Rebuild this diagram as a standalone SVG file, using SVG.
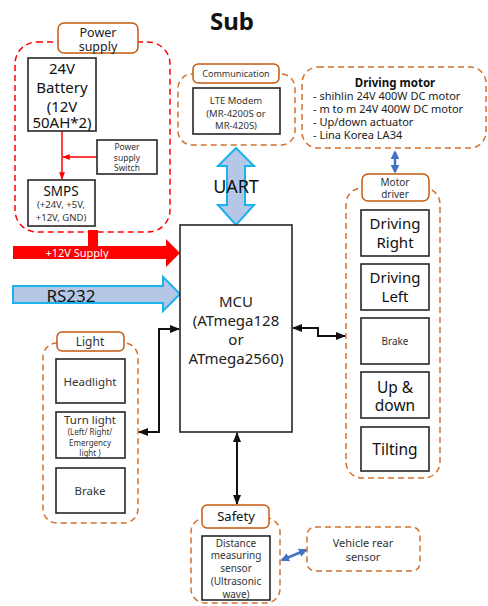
<svg xmlns="http://www.w3.org/2000/svg" width="488" height="606" viewBox="0 0 488 606">
<defs>
<style>
text{font-family:"Noto Sans","Open Sans","Noto Sans CJK KR",sans-serif;fill:#222;text-anchor:middle}
.box{fill:#fff;stroke:#262626;stroke-width:1.6}
.odash{fill:none;stroke:#D2712E;stroke-width:1.5;stroke-dasharray:6 4}
.rdash{fill:none;stroke:#FF0000;stroke-width:1.5;stroke-dasharray:6 4}
.lbl{fill:#fff;stroke:#C55A11;stroke-width:1.5}
.conn{fill:none;stroke:#111;stroke-width:2}
.blue{fill:none;stroke:#4472C4;stroke-width:2.5}
.red{fill:none;stroke:#FF0000;stroke-width:1.5}
</style>
<marker id="ah" viewBox="0 0 10 10" refX="9" refY="5" markerWidth="5" markerHeight="5" orient="auto-start-reverse"><path d="M0,1 L10,5 L0,9 z" fill="#111"/></marker>
<marker id="bh" viewBox="0 0 10 10" refX="8" refY="5" markerWidth="3.5" markerHeight="3.5" orient="auto-start-reverse"><path d="M0,0 L10,5 L0,10 z" fill="#4472C4"/></marker>
<marker id="rh" viewBox="0 0 10 10" refX="9" refY="5" markerWidth="5" markerHeight="5" orient="auto-start-reverse"><path d="M0,1 L10,5 L0,9 z" fill="#FF0000"/></marker>
</defs>
<rect width="488" height="606" fill="#fff"/>
<text x="232" y="30" style="font-size:24px;font-weight:bold;fill:#111">Sub</text>

<g id="connectors">
<path d="M62,131 V179" class="red" marker-end="url(#rh)"/>
<path d="M97,157 H63" class="red" marker-end="url(#rh)"/>
<rect x="88" y="230" width="10" height="17" fill="#FF0000"/>
<polygon points="13,246 166,246 166,239 180,253 166,267 166,259 13,259" fill="#FF0000"/>
<text x="77" y="257" style="font-size:11px;fill:#fff">+12V Supply</text>
<polygon points="13,286 163,286 163,277 180,294 163,311 163,303 13,303" fill="#B4C7E7" stroke="#1CB2EC" stroke-width="2"/>
<text x="71" y="302" style="font-size:17px;fill:#111">RS232</text>
<polygon points="236,148 254,166 245,166 245,205 254,205 236,225 218,205 227,205 227,166 218,166" fill="#B4C7E7" stroke="#1CB2EC" stroke-width="2"/>
<text x="236" y="193" style="font-size:18px;fill:#111">UART</text>
<path d="M395,152 V172" class="blue" marker-start="url(#bh)" marker-end="url(#bh)"/>
<path d="M293,328 H318 V336 H345" class="conn" marker-start="url(#ah)" marker-end="url(#ah)"/>
<path d="M179,329 H159 V432 H139" class="conn" marker-start="url(#ah)" marker-end="url(#ah)"/>
<path d="M237,433 V504" class="conn" marker-start="url(#ah)" marker-end="url(#ah)"/>
<path d="M282,560 L306,550" class="blue" marker-start="url(#bh)" marker-end="url(#bh)"/>
</g>

<g id="power-supply">
<rect x="15" y="42" width="155" height="190" rx="22" class="rdash"/>
<rect x="58" y="23" width="80" height="30" rx="6" class="lbl"/>
<text x="98" y="37" style="font-size:12.5px">Power</text>
<text x="98" y="51" style="font-size:12.5px">supply</text>
</g>
<g id="battery">
<rect x="28" y="58" width="68" height="73" class="box"/>
<text x="62" y="74" style="font-size:15px;fill:#111">24V</text>
<text x="62" y="93" style="font-size:15px;fill:#111">Battery</text>
<text x="62" y="112" style="font-size:15px;fill:#111">(12V</text>
<text x="62" y="128" style="font-size:15px;fill:#111">50AH*2)</text>
</g>
<g id="switch">
<rect x="97" y="140" width="60" height="34" class="box"/>
<text x="127" y="150" style="font-size:8.5px;fill:#333">Power</text>
<text x="127" y="161" style="font-size:8.5px;fill:#333">supply</text>
<text x="127" y="171" style="font-size:8.5px;fill:#333">Switch</text>
</g>
<g id="smps">
<rect x="28" y="180" width="67" height="46" class="box"/>
<text x="61" y="196" style="font-size:13.5px;fill:#111">SMPS</text>
<text x="61" y="208" style="font-size:9.5px;fill:#333">(+24V, +5V,</text>
<text x="61" y="221" style="font-size:9.5px;fill:#333">+12V, GND)</text>
</g>

<g id="communication">
<rect x="178" y="74" width="117" height="71" rx="14" class="odash"/>
<rect x="193" y="64" width="86" height="19" rx="5" class="lbl"/>
<text x="236" y="77" style="font-size:9px;fill:#333">Communication</text>
</g>
<g id="lte">
<rect x="193" y="88" width="87" height="46" class="box"/>
<text x="236" y="104" style="font-size:9.5px;fill:#333">LTE Modem</text>
<text x="236" y="117" style="font-size:9.5px;fill:#333">(MR-4200S or</text>
<text x="236" y="129" style="font-size:9.5px;fill:#333">MR-420S)</text>
</g>

<g id="driving-motor">
<rect x="302" y="67" width="184" height="81" rx="16" class="odash"/>
<text x="395" y="87" style="font-size:11.5px;font-weight:bold;fill:#111">Driving motor</text>
<text x="313" y="100" style="font-size:11px;text-anchor:start">- shihlin 24V 400W DC motor</text>
<text x="313" y="113" style="font-size:11px;text-anchor:start">- m to m 24V 400W DC motor</text>
<text x="313" y="126" style="font-size:11px;text-anchor:start">- Up/down actuator</text>
<text x="313" y="139" style="font-size:11px;text-anchor:start">- Lina Korea LA34</text>
</g>

<g id="mcu">
<rect x="180" y="225" width="112" height="207" class="box"/>
<text x="236" y="307" style="font-size:15px;fill:#222">MCU</text>
<text x="236" y="326" style="font-size:15px;fill:#222">(ATmega128</text>
<text x="236" y="345" style="font-size:15px;fill:#222">or</text>
<text x="236" y="364" style="font-size:15px;fill:#222">ATmega2560)</text>
</g>

<g id="motor-driver">
<rect x="346" y="188" width="94" height="290" rx="16" class="odash"/>
<rect x="362" y="174" width="67" height="27" rx="6" class="lbl"/>
<text x="395" y="186" style="font-size:10px;fill:#333">Motor</text>
<text x="395" y="198" style="font-size:10px;fill:#333">driver</text>
</g>
<g id="driving-right">
<rect x="361" y="210" width="68" height="46" class="box"/>
<text x="395" y="229" style="font-size:15px;fill:#111">Driving</text>
<text x="395" y="248" style="font-size:15px;fill:#111">Right</text>
</g>
<g id="driving-left">
<rect x="361" y="264" width="68" height="46" class="box"/>
<text x="395" y="283" style="font-size:15px;fill:#111">Driving</text>
<text x="395" y="302" style="font-size:15px;fill:#111">Left</text>
</g>
<g id="md-brake">
<rect x="361" y="318" width="68" height="46" class="box"/>
<text x="395" y="345" style="font-size:10px;fill:#333">Brake</text>
</g>
<g id="up-down">
<rect x="361" y="372" width="68" height="46" class="box"/>
<text x="395" y="393" style="font-size:15.5px;fill:#111">Up &amp;</text>
<text x="395" y="411" style="font-size:15.5px;fill:#111">down</text>
</g>
<g id="tilting">
<rect x="361" y="427" width="68" height="44" class="box"/>
<text x="395" y="455" style="font-size:15.5px;fill:#111">Tilting</text>
</g>

<g id="light">
<rect x="43" y="343" width="95" height="180" rx="14" class="odash"/>
<rect x="57" y="332" width="67" height="19" rx="5" class="lbl"/>
<text x="90" y="346" style="font-size:12px;fill:#333">Light</text>
</g>
<g id="headlight">
<rect x="56" y="359" width="69" height="44" class="box"/>
<text x="90" y="386" style="font-size:11.5px;fill:#333">Headlight</text>
</g>
<g id="turn-light">
<rect x="56" y="412" width="69" height="46" class="box"/>
<text x="90" y="424" style="font-size:11.5px;fill:#333">Turn light</text>
<text x="90" y="435" style="font-size:8px;fill:#333">(Left/ Right/</text>
<text x="90" y="446" style="font-size:8px;fill:#333">Emergency</text>
<text x="90" y="456" style="font-size:8px;fill:#333">light )</text>
</g>
<g id="light-brake">
<rect x="56" y="468" width="69" height="45" class="box"/>
<text x="90" y="495" style="font-size:11.5px;fill:#333">Brake</text>
</g>

<g id="safety">
<rect x="191" y="518" width="89" height="85" rx="14" class="odash"/>
<rect x="202" y="505" width="67" height="23" rx="5" class="lbl"/>
<text x="236" y="521" style="font-size:13px;fill:#111">Safety</text>
</g>
<g id="distance-sensor">
<rect x="202" y="536" width="68" height="64" class="box"/>
<text x="236" y="547" style="font-size:10px;fill:#333">Distance</text>
<text x="236" y="559" style="font-size:10px;fill:#333">measuring</text>
<text x="236" y="572" style="font-size:10px;fill:#333">sensor</text>
<text x="236" y="585" style="font-size:10px;fill:#333">(Ultrasonic</text>
<text x="236" y="598" style="font-size:10px;fill:#333">wave)</text>
</g>
<g id="rear-sensor">
<rect x="307" y="527" width="113" height="44" rx="8" class="odash"/>
<text x="363" y="547" style="font-size:11px;fill:#333">Vehicle rear</text>
<text x="363" y="561" style="font-size:11px;fill:#333">sensor</text>
</g>
</svg>
